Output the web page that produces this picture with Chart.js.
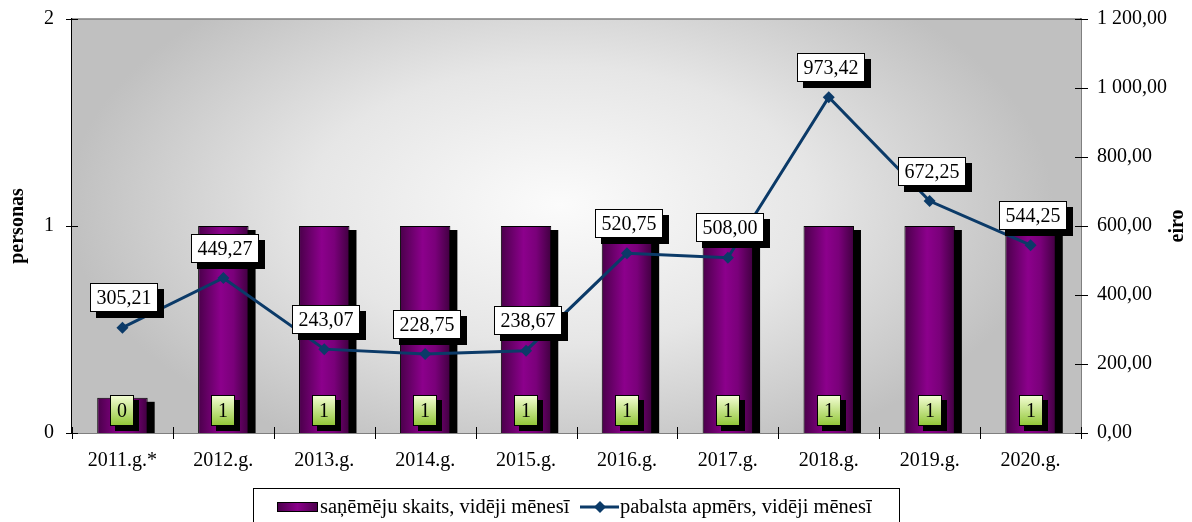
<!DOCTYPE html>
<html>
<head>
<meta charset="utf-8">
<script src="https://cdn.jsdelivr.net/npm/chart.js@4.4.1/dist/chart.umd.min.js"></script>
<style>
  html, body { margin: 0; padding: 0; background: #fff; }
  #wrap { width: 1192px; height: 522px; }
</style>
</head>
<body>
<div id="wrap"><canvas id="chartPabalsts" width="1192" height="522"></canvas></div>
<script>
// gadi un vērtības
const gadi = ['2011.g.*', '2012.g.', '2013.g.', '2014.g.', '2015.g.', '2016.g.', '2017.g.', '2018.g.', '2019.g.', '2020.g.'];
const sanemeji = [0.17, 1, 1, 1, 1, 1, 1, 1, 1, 1];
const pabalsts = [305.21, 449.27, 243.07, 228.75, 238.67, 520.75, 508.00, 973.42, 672.25, 544.25];
const personasTicks = [0, 1, 2];
const eiroTicks = [0, 200, 400, 600, 800, 1000, 1200];

const FONT = "'Liberation Serif', 'Times New Roman', serif";
const LINE_COLOR = '#0b3a68';

function eiro(v) {
    return v.toFixed(2).replace('.', ',').replace(/\B(?=(\d{3})+(?!\d))/g, ' ');
}

// fons, ēnas, vērtību uzraksti, iedaļas un leģenda
const noformejums = {
    id: 'noformejums',
    beforeDatasetsDraw(chart) {
        const { ctx, chartArea: a } = chart;
        // radiālais gradients zīmēšanas laukumā
        ctx.save();
        ctx.beginPath();
        ctx.rect(a.left, a.top, a.right - a.left, a.bottom - a.top);
        ctx.clip();
        ctx.translate(560, 205);
        ctx.scale(1, 0.55);
        const g = ctx.createRadialGradient(0, 0, 0, 0, 0, 560);
        g.addColorStop(0, '#fbfbfb');
        g.addColorStop(0.45, '#e6e6e6');
        g.addColorStop(0.88, '#c0c0c0');
        g.addColorStop(1, '#c0c0c0');
        ctx.fillStyle = g;
        ctx.fillRect(-800, -800, 1600, 1600);
        ctx.restore();

        // stabiņu ēnas
        ctx.save();
        ctx.beginPath();
        ctx.rect(a.left, a.top, a.right - a.left, a.bottom - a.top);
        ctx.clip();
        ctx.fillStyle = '#000';
        chart.getDatasetMeta(1).data.forEach(el => {
            const w = el.width;
            ctx.fillRect(el.x - w / 2 + 7, el.y + 4, w, el.base - el.y);
        });
        ctx.restore();
    },
    afterDatasetsDraw(chart) {
        const { ctx, chartArea: a } = chart;

        // augšējā mala
        ctx.save();
        ctx.strokeStyle = '#808080';
        ctx.lineWidth = 1.5;
        ctx.beginPath();
        ctx.moveTo(a.left, a.top);
        ctx.lineTo(a.right, a.top);
        ctx.stroke();
        ctx.restore();

        ctx.save();
        ctx.font = '20px ' + FONT;
        ctx.textAlign = 'center';
        ctx.textBaseline = 'middle';

        // stabiņu vērtības zaļās kastītēs
        chart.getDatasetMeta(1).data.forEach((el, i) => {
            const w = 24, h = 31;
            const x = Math.round(el.x - w / 2), y = Math.round(el.base - 23 - h / 2);
            ctx.fillStyle = '#000';
            ctx.fillRect(x + 5, y + 5, w, h);
            const gg = ctx.createLinearGradient(0, y, 0, y + h);
            gg.addColorStop(0, '#f6ffd8');
            gg.addColorStop(1, '#8fc534');
            ctx.fillStyle = gg;
            ctx.fillRect(x, y, w, h);
            ctx.strokeStyle = '#000';
            ctx.lineWidth = 1;
            ctx.strokeRect(x + 0.5, y + 0.5, w - 1, h - 1);
            ctx.fillStyle = '#000';
            ctx.fillText(Math.round(sanemeji[i]).toString(), x + w / 2, y + h / 2 + 1);
        });

        // pabalsta vērtības baltās kastītēs
        chart.getDatasetMeta(0).data.forEach((el, i) => {
            const txt = eiro(pabalsts[i]);
            const w = ctx.measureText(txt).width + 13, h = 29;
            const cx = el.x + 2, cy = el.y - 30;
            const x = Math.round(cx - w / 2), y = Math.round(cy - h / 2);
            ctx.fillStyle = '#000';
            ctx.fillRect(x + 6, y + 6, w, h);
            ctx.fillStyle = '#fff';
            ctx.fillRect(x, y, w, h);
            ctx.strokeStyle = '#000';
            ctx.lineWidth = 1;
            ctx.strokeRect(x + 0.5, y + 0.5, w - 1, h - 1);
            ctx.fillStyle = '#000';
            ctx.fillText(txt, x + w / 2, y + h / 2 + 1);
        });
        ctx.restore();
    },
    afterDraw(chart) {
        const { ctx, chartArea: a, scales } = chart;
        ctx.save();
        ctx.strokeStyle = '#000';
        ctx.lineWidth = 1;

        // iedaļas, kas šķērso asis
        ctx.beginPath();
        const step = (a.right - a.left) / gadi.length;
        for (let k = 0; k <= gadi.length; k++) {
            const x = Math.round(a.left + k * step) + 0.5;
            ctx.moveTo(x, a.bottom - 6);
            ctx.lineTo(x, a.bottom + 6);
        }
        personasTicks.forEach(v => {
            const y = Math.round(scales.y.getPixelForValue(v)) + 0.5;
            ctx.moveTo(a.left - 6, y);
            ctx.lineTo(a.left + 6, y);
        });
        eiroTicks.forEach(v => {
            const y = Math.round(scales.y1.getPixelForValue(v)) + 0.5;
            ctx.moveTo(a.right - 6, y);
            ctx.lineTo(a.right + 7, y);
        });
        ctx.stroke();

        // asu nosaukumi
        ctx.fillStyle = '#000';
        ctx.font = 'bold 20px ' + FONT;
        ctx.textAlign = 'center';
        ctx.textBaseline = 'middle';
        [['personas', 18], ['eiro', 1178]].forEach(([t, x]) => {
            ctx.save();
            ctx.translate(x, 226);
            ctx.rotate(-Math.PI / 2);
            ctx.fillText(t, 0, 0);
            ctx.restore();
        });

        // leģenda
        ctx.fillStyle = '#fff';
        ctx.fillRect(253, 488, 647, 40);
        ctx.strokeStyle = '#000';
        ctx.strokeRect(253.5, 488.5, 646, 40);

        const ly = 507;
        const sg = ctx.createLinearGradient(277, 0, 318, 0);
        sg.addColorStop(0, '#4a004a');
        sg.addColorStop(0.5, '#8a008a');
        sg.addColorStop(1, '#4a004a');
        ctx.fillStyle = sg;
        ctx.fillRect(277, ly - 5, 41, 10);
        ctx.strokeStyle = '#000';
        ctx.strokeRect(277.5, ly - 4.5, 40, 9);

        ctx.strokeStyle = LINE_COLOR;
        ctx.lineWidth = 3;
        ctx.beginPath();
        ctx.moveTo(580, ly);
        ctx.lineTo(619, ly);
        ctx.stroke();
        ctx.fillStyle = LINE_COLOR;
        ctx.beginPath();
        ctx.moveTo(600, ly - 6);
        ctx.lineTo(606, ly);
        ctx.lineTo(600, ly + 6);
        ctx.lineTo(594, ly);
        ctx.closePath();
        ctx.fill();

        ctx.fillStyle = '#000';
        ctx.font = '20.5px ' + FONT;
        ctx.textAlign = 'left';
        ctx.fillText('saņēmēju skaits, vidēji mēnesī', 320, ly + 1);
        ctx.fillText('pabalsta apmērs, vidēji mēnesī', 620, ly + 1);
        ctx.restore();
    }
};

// stabiņa horizontālais gradients (tumšas malas, gaišāks vidus)
function stabinaKrasa(c) {
    const sx = c.chart.scales.x;
    if (!sx || c.type !== 'data') return '#800080';
    const x = sx.getPixelForValue(c.dataIndex);
    const half = sx.width / gadi.length * 0.25;
    if (!isFinite(x) || !isFinite(half) || half <= 0) return '#800080';
    const g = c.chart.ctx.createLinearGradient(x - half, 0, x + half, 0);
    g.addColorStop(0, '#4a004a');
    g.addColorStop(0.45, '#8c008c');
    g.addColorStop(0.7, '#7a007a');
    g.addColorStop(1, '#400040');
    return g;
}

// vertikālo asu platums fiksēts, bez papildu atkāpes augšā/apakšā
function fiksetAsi(width) {
    return s => {
        s.width = width;
        s.paddingTop = 0;
        s.paddingBottom = 0;
    };
}

document.addEventListener('DOMContentLoaded', function () {
    const ctx = document.getElementById('chartPabalsts').getContext('2d');

    new Chart(ctx, {
        data: {
            labels: gadi,
            datasets: [{
                type: 'line',
                label: 'pabalsta apmērs, vidēji mēnesī',
                data: pabalsts,
                yAxisID: 'y1',
                order: 1,
                borderColor: LINE_COLOR,
                borderWidth: 3,
                tension: 0,
                pointStyle: 'rectRot',
                pointRadius: 6,
                pointBackgroundColor: LINE_COLOR,
                pointBorderColor: LINE_COLOR,
                pointBorderWidth: 0
            }, {
                type: 'bar',
                label: 'saņēmēju skaits, vidēji mēnesī',
                data: sanemeji,
                yAxisID: 'y',
                order: 2,
                categoryPercentage: 1,
                barPercentage: 0.5,
                borderColor: '#000',
                borderWidth: 1,
                borderSkipped: 'bottom',
                backgroundColor: stabinaKrasa
            }]
        },
        options: {
            responsive: false,
            animation: false,
            layout: { padding: { top: 19, left: 0, right: 0, bottom: 0 } },
            plugins: {
                legend: { display: false },
                tooltip: { enabled: false }
            },
            scales: {
                x: {
                    grid: { display: false, drawTicks: false },
                    border: { color: '#000', width: 1.5 },
                    ticks: { color: '#000', font: { family: FONT, size: 20 }, padding: 16, maxRotation: 0, autoSkip: false },
                    afterFit: s => { s.height = 89; }
                },
                y: {
                    position: 'left',
                    min: 0, max: 2,
                    grid: { display: false, drawTicks: false },
                    border: { color: '#000', width: 1.5 },
                    ticks: { stepSize: 1, color: '#000', font: { family: FONT, size: 20 }, padding: 18 },
                    afterFit: fiksetAsi(72)
                },
                y1: {
                    position: 'right',
                    min: 0, max: 1200,
                    grid: { display: false, drawTicks: false },
                    border: { color: '#000', width: 1.5 },
                    ticks: { stepSize: 200, color: '#000', font: { family: FONT, size: 20 }, padding: 16, callback: v => eiro(v) },
                    afterFit: fiksetAsi(111)
                }
            }
        },
        plugins: [noformejums]
    });
});
</script>
</body>
</html>
